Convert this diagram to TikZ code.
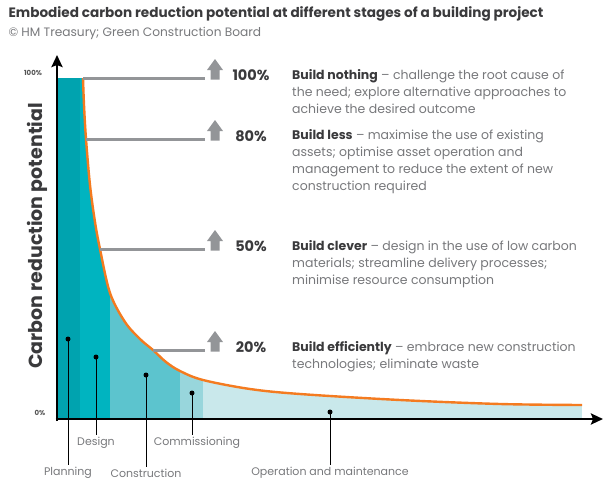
\documentclass[tikz,border=0pt]{standalone}
\usepackage{fontspec}
\setmainfont{Poppins}
\usepackage{xcolor}
\usepackage{tikz}
\usetikzlibrary{arrows.meta}
\definecolor{dark}{HTML}{3A3A3C}
\definecolor{body}{HTML}{77787B}
\definecolor{tick}{HTML}{555555}
\definecolor{lvgray}{HTML}{939598}
\definecolor{orange}{HTML}{F47B20}
\definecolor{planfill}{HTML}{00A3AF}
\definecolor{desfill}{HTML}{00B4C0}
\definecolor{confill}{HTML}{5CC4CE}
\definecolor{comfill}{HTML}{98D6DC}
\definecolor{opfill}{HTML}{C9E8EB}
\tikzset{
  axisline/.style={draw=black, line width=2.6pt, -{Stealth[length=12pt,width=11pt,inset=2pt]}},
  decay/.style={draw=orange, line width=2.4pt},
  decaypath/.style={insert path={-- plot[smooth,tension=0.55] coordinates {(83,78) (84,105) (86,139) (90,185) (95,222) (100,249) (110,293) (125,322) (140,339) (153,350) (166,362) (180,371) (203,380) (250,389) (300,394) (400,400) (500,404) (582,405)}}},
  lvline/.style={draw=lvgray, line width=3pt},
  stem/.style={draw=black, line width=0.9pt},
  stagedot/.style={circle, fill=black, inner sep=0pt, minimum size=5pt},
  pctlab/.style={text=dark, font=\fontsize{14.5}{16}\bfseries\selectfont},
  desc/.style={text=body, font=\fontsize{12.5}{17}\selectfont, align=left, anchor=north west, inner sep=0pt},
  stagelab/.style={text=body, font=\fontsize{11}{12}\selectfont, inner sep=2pt},
  ticklab/.style={text=tick, font=\fontsize{7}{8}\bfseries\selectfont},
  every node/.style={text=body}
}
\begin{document}
\begin{tikzpicture}[x=1pt, y=-1pt]
  \useasboundingbox (0,0) rectangle (611,496);

  % title
  \node[anchor=west, text=dark, font=\fontsize{13.6}{15}\bfseries\selectfont] (title) at (5,14)
    {Embodied carbon reduction potential at different stages of a building project};
  \node[anchor=west, font=\fontsize{12.2}{14}\selectfont] (source) at (5,33)
    {© HM Treasury; Green Construction Board};

  % stages under the curve
  \begin{scope}
    \clip (57,419) -- (57,78) [decaypath] -- (582,419) -- cycle;
    \fill[planfill] (57,419) rectangle (80,60);
    \fill[desfill] (80,419) rectangle (110,60);
    \fill[confill] (110,419) rectangle (180,60);
    \fill[comfill] (180,419) rectangle (203,60);
    \fill[opfill] (203,419) rectangle (582,60);
  \end{scope}
  \draw[decay] (83,78) [decaypath];

  % levels
  \foreach \yy/\xs/\pct/\nm in {78/83/100/nothing, 139/86/80/less, 249/100/50/clever, 350/153/20/efficient}{
    \draw[lvline] (\xs,\yy) -- (205,\yy);
    \fill[lvgray] (210.5,\yy+1.5) -- (210.5,\yy-8) -- (207,\yy-8) -- (215,\yy-19)
      -- (223,\yy-8) -- (219.5,\yy-8) -- (219.5,\yy+1.5) -- cycle;
    \node[pctlab] (pct-\nm) at (251,\yy-3) {\pct\%};
  }

  \node[desc] (txt-nothing) at (292,69) {{\color{dark}\bfseries Build nothing} – challenge the root cause of\\
    the need; explore alternative approaches to\\achieve the desired outcome};
  \node[desc] (txt-less) at (292,129) {{\color{dark}\bfseries Build less} – maximise the use of existing\\
    assets; optimise asset operation and\\management to reduce the extent of new\\construction required};
  \node[desc] (txt-clever) at (292,240) {{\color{dark}\bfseries Build clever} – design in the use of low carbon\\
    materials; streamline delivery processes;\\minimise resource consumption};
  \node[desc] (txt-efficient) at (292,341) {{\color{dark}\bfseries Build efficiently} – embrace new construction\\
    technologies; eliminate waste};

  % axes
  \draw[axisline] (57,421) -- (57,55);
  \draw[axisline] (55.7,419) -- (603,419);
  \node[ticklab] (t100) at (33,73) {100\%};
  \node[ticklab] (t0) at (40,413) {0\%};
  \node[rotate=90, text=dark, font=\fontsize{19}{22}\bfseries\selectfont] (ylabel) at (37,236)
    {Carbon reduction potential};

  % stage markers
  \coordinate (d-plan) at (68,339);
  \coordinate (d-des) at (96,357);
  \coordinate (d-con) at (146,375);
  \coordinate (d-com) at (192,393);
  \coordinate (d-op) at (330,412);
  \node[stagelab] (planning) at (68,473) {Planning};
  \node[stagelab] (design) at (96,443) {Design};
  \node[stagelab] (construction) at (146,473) {Construction};
  \node[stagelab] (commissioning) at (197,443) {Commissioning};
  \node[stagelab] (operation) at (330,473) {Operation and maintenance};
  \foreach \dd/\lab in {d-plan/planning, d-des/design, d-con/construction, d-com/commissioning, d-op/operation}{
    \draw[stem] (\dd) -- (\dd |- \lab.north);
    \node[stagedot] at (\dd) {};
  }
\end{tikzpicture}
\end{document}
